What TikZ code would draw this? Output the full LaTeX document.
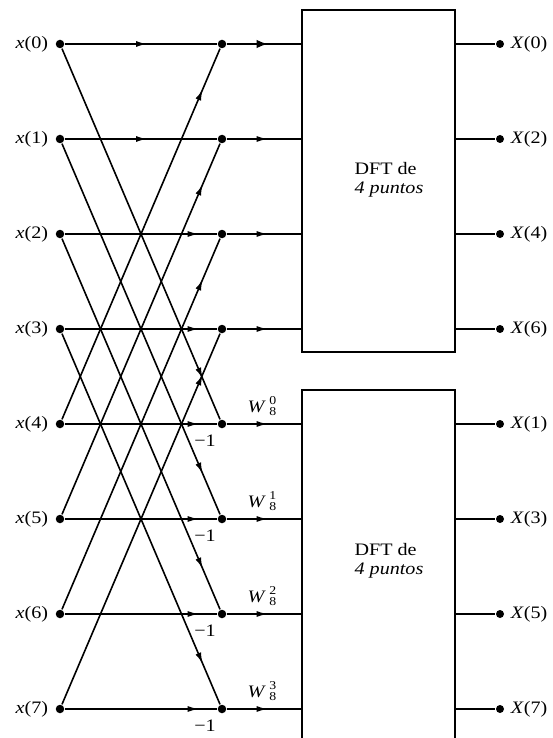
\documentclass[tikz,border=0pt]{standalone}
\usepackage{fontspec}
\setmainfont{Liberation Serif}
\usetikzlibrary{arrows.meta,decorations.markings}
\newcommand\wlab[1]{\textit{W}\,\raisebox{1.5pt}{\fontsize{12}{10.5}\selectfont\begin{tabular}{@{}c@{}}#1\\8\end{tabular}}}
\begin{document}
\begin{tikzpicture}[x=1pt,y=-1pt,
  line width=1.6pt,
  dot/.style={circle,fill,inner sep=0pt,minimum size=8.5pt},
  odot/.style={circle,fill,inner sep=0pt,minimum size=8pt},
  lbl/.style={font=\fontsize{17.5}{19}\selectfont, xscale=1.15, inner sep=0pt},
  dftbox/.style={draw,line width=2.2pt,minimum width=153pt,inner sep=0pt},
  midarrow/.style={postaction={decorate},decoration={markings,
      mark=at position #1 with {\arrow{Latex[length=11pt,width=6pt]}}}},
  bigarrow/.style={postaction={decorate},decoration={markings,
      mark=at position #1 with {\arrow{Latex[length=11pt,width=8.5pt]}}}}
]
\clip (0,0) rectangle (553,738);

% DFT boxes
\node[dftbox,minimum height=342pt] (tb) at (378.5,181) {};
\node[dftbox,minimum height=370pt] (bb) at (378.5,575) {};
\node[lbl,align=left] (tt) at (389,180) {DFT de\\\textit{4 puntos}};
\node[lbl,align=left] (bt) at (389,561) {DFT de\\\textit{4 puntos}};

% input and middle nodes
\foreach \k in {0,...,7} {
  \pgfmathsetmacro\yy{44+95*\k}
  \node[dot] (in\k) at (60,\yy) {};
  \node[dot] (m\k) at (222,\yy) {};
  \node[lbl,anchor=east] (lx\k) at (49,\yy) {\textit{x}(\k)};
}

% horizontal branches
\foreach \k in {0,1} { \draw[midarrow=0.54] (in\k) -- (m\k); }
\foreach \k in {2,...,7} { \draw[midarrow=0.88] (in\k) -- (m\k); }

% crossing branches
\foreach \k [evaluate=\k as \j using int(\k+4)] in {0,...,3} {
  \draw[midarrow=0.89] (in\k) -- (m\j);
  \draw[midarrow=0.89] (in\j) -- (m\k);
}

% into the boxes
\draw[bigarrow=0.55] (m0) -- (m0 -| tb.west);
\foreach \k in {1,2,3} { \draw[midarrow=0.55] (m\k) -- (m\k -| tb.west); }
\foreach \k in {4,...,7} { \draw[midarrow=0.55] (m\k) -- (m\k -| bb.west); }

% -1 and twiddle labels
\foreach \k [evaluate=\k as \n using int(\k-4)] in {4,...,7} {
  \pgfmathsetmacro\yy{44+95*\k}
  \node[lbl] (neg\k) at (205,\yy+17) {\char"2212 1};
  \node[lbl] (w\k) at (262,\yy-16) {\wlab{\n}};
}

% outputs
\foreach \k [evaluate=\k as \n using int(2*\k)] in {0,...,3} {
  \pgfmathsetmacro\yy{44+95*\k}
  \node[odot] (o\k) at (500,\yy) {};
  \draw (o\k -| tb.east) -- (o\k);
  \node[lbl,anchor=west] (lo\k) at (510,\yy) {\textit{X}(\n)};
}
\foreach \k [evaluate=\k as \n using int(2*(\k-4)+1)] in {4,...,7} {
  \pgfmathsetmacro\yy{44+95*\k}
  \node[odot] (o\k) at (500,\yy) {};
  \draw (o\k -| bb.east) -- (o\k);
  \node[lbl,anchor=west] (lo\k) at (510,\yy) {\textit{X}(\n)};
}
\end{tikzpicture}
\end{document}
